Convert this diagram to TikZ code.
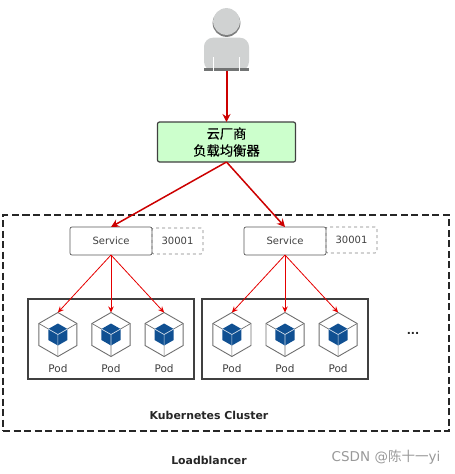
\documentclass[tikz,border=0pt]{standalone}
\usepackage{xcolor}
\usepackage{fontspec}
\setmainfont{DejaVu Sans}
\newfontfamily\cjk{Noto Sans CJK SC}
\newfontfamily\cjkheavy[FakeBold=0.4]{Noto Sans CJK SC}
\usepackage{tikz}
\usetikzlibrary{positioning, arrows.meta, shapes.geometric}
\definecolor{linkred}{RGB}{204, 0, 0}
\definecolor{cubeblue}{RGB}{16, 80, 146}
\definecolor{hexgray}{RGB}{110, 110, 110}
\definecolor{persongray}{RGB}{208, 210, 210}

\begin{document}
\begin{tikzpicture}[
    x=1pt, y=-1pt, outer sep=0pt,
    person/.style={minimum width=45pt, minimum height=62pt, inner sep=0pt, path picture={
        \begin{scope}[shift={(path picture bounding box.center)}]
            \fill[persongray!60!black] (0,-16.7) circle (13.9);
            \fill[persongray] (0,-18.2) circle (13.4);
            \fill[persongray, rounded corners=9pt] (-22.5,31) -- (-22.5,-2) -- (22.5,-2) -- (22.5,31) -- cycle;
            \fill[persongray!55!black] (-22.5,28.4) rectangle (22.5,31);
            \fill[white] (-13.6,17) rectangle (-12.8,31);
            \fill[white] (12.8,17) rectangle (13.6,31);
        \end{scope}
    }},
    balancer/.style={draw=black!75, line width=1.2pt, rounded corners=2pt, minimum width=138pt, minimum height=40pt, inner sep=0pt, align=center, fill=green!20, font=\fontsize{13.3}{17}\selectfont\cjkheavy},
    service/.style={draw=black!65, rounded corners=2pt, line width=.7pt, minimum width=82pt, minimum height=28pt, font=\fontsize{10}{12}\selectfont, text=black!75},
    port/.style={draw=black!50, dashed, rounded corners=2pt, line width=.7pt, minimum width=51pt, minimum height=26pt, font=\fontsize{10}{12}\selectfont, text=black!75},
    podbox/.style={draw=black!75, line width=1.2pt, minimum width=166pt, minimum height=80pt},
    pod/.style={regular polygon, regular polygon sides=6, shape border rotate=30, minimum size=44pt, inner sep=0pt, draw=hexgray, line width=.9pt, path picture={
        \begin{scope}[shift={(path picture bounding box.center)}]
            \draw[hexgray, line width=.7pt] (-19,-11) -- (0,0) -- (19,-11) (0,0) -- (0,22);
            \fill[cubeblue] (0,-11) -- (9.6,-5.5) -- (9.6,5.5) -- (0,11) -- (-9.6,5.5) -- (-9.6,-5.5) -- cycle;
            \draw[white!80!cubeblue, line width=.7pt] (-9.6,-5.5) -- (0,0) -- (9.6,-5.5) (0,0) -- (0,11);
        \end{scope}
    }},
    podlabel/.style={font=\fontsize{10.5}{12}\selectfont, text=black!75, inner sep=0pt},
    cluster/.style={draw=black!85, dashed, dash pattern=on 7pt off 3.5pt, line width=1.2pt, minimum width=446pt, minimum height=216pt},
    title/.style={font=\fontsize{10.9}{13}\selectfont\bfseries, text=black!85, inner sep=0pt},
    rel/.style={-{Stealth[length=8pt, width=8pt]}, line width=1.5pt, linkred},
    sub/.style={-{Stealth[length=6pt, width=5.5pt]}, line width=.8pt, red!90!black}
]
\useasboundingbox (0,0) rectangle (455,474);

\node[person] (user) at (226.5,39.7) {};
\node[balancer, below=51.3pt of user] (lb) {云厂商\\负载均衡器};

\node[cluster] (k8s) at (226,323) {};
\node[service, below left=65pt and 74.5pt of lb.south] (svc1) {Service};
\node[service, below right=65pt and 17.5pt of lb.south] (svc2) {Service};
\node[port, right=0pt of svc1] (port1) {30001};
\node[port, right=0pt of svc2, yshift=1pt] (port2) {30001};

\node[podbox, below=44pt of svc1] (box1) {};
\node[podbox, below=44pt of svc2] (box2) {};

\node[pod, below=57.5pt of svc1] (pod12) {};
\node[pod, left=15pt of pod12] (pod11) {};
\node[pod, right=15pt of pod12] (pod13) {};
\node[pod, below=57.5pt of svc2] (pod22) {};
\node[pod, left=15pt of pod22] (pod21) {};
\node[pod, right=15pt of pod22] (pod23) {};

\node[podlabel, below=8.5pt of pod11] (lab11) {Pod};
\node[podlabel, below=8.5pt of pod12] (lab12) {Pod};
\node[podlabel, below=8.5pt of pod13] (lab13) {Pod};
\node[podlabel, below=8.5pt of pod21] (lab21) {Pod};
\node[podlabel, below=8.5pt of pod22] (lab22) {Pod};
\node[podlabel, below=8.5pt of pod23] (lab23) {Pod};

\node[title] (more) at (413,333) {...};
\node[title] (k8stitle) at (209,415) {Kubernetes Cluster};
\node[title, below=37pt of k8stitle] (lbtitle) {Loadblancer};
\node[inner sep=0pt, font=\fontsize{13.5}{15}\selectfont, text=black!40] (mark) at (386,457) {CSDN @{\cjk 陈十一}yi};

\draw[rel, line width=2pt] (user) -- (lb);
\draw[rel] (lb.south) -- (svc1.north);
\draw[rel] (lb.south) -- (svc2.north);
\draw[sub] (svc1.south) -- (pod11.north);
\draw[sub] (svc1.south) -- (pod12.north);
\draw[sub] (svc1.south) -- (pod13.north);
\draw[sub] (svc2.south) -- (pod21.north);
\draw[sub] (svc2.south) -- (pod22.north);
\draw[sub] (svc2.south) -- (pod23.north);

\end{tikzpicture}
\end{document}
